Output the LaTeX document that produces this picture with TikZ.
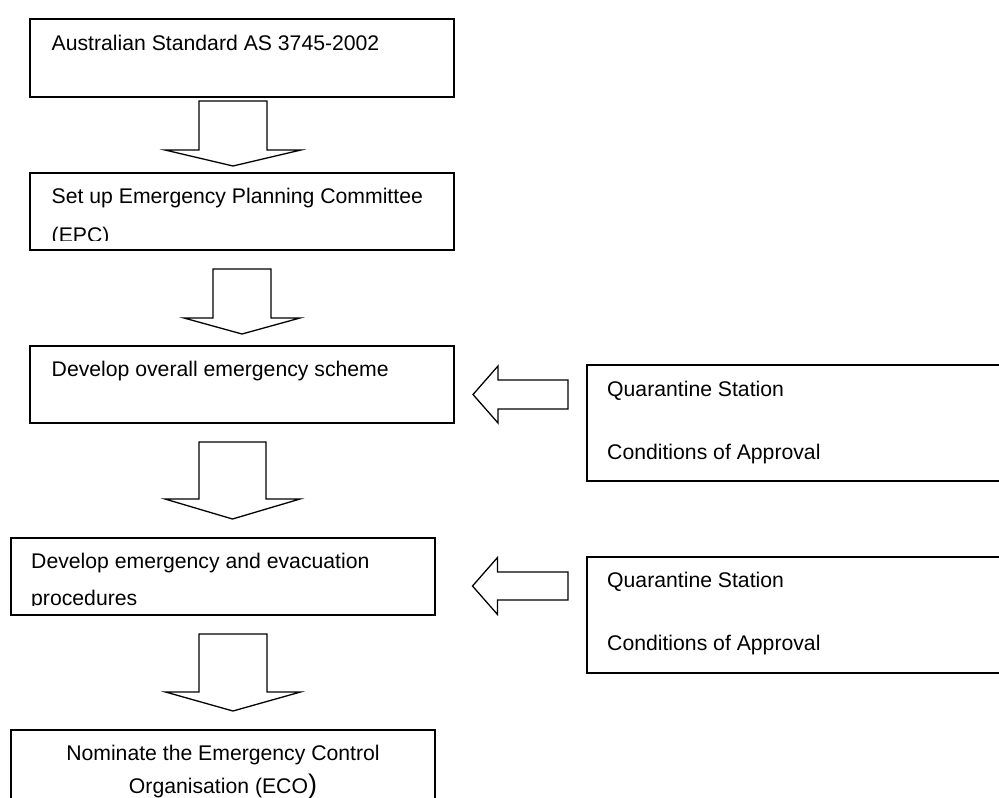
\documentclass[tikz,border=0pt]{standalone}
\usepackage{fontspec}
\setmainfont{Liberation Sans}
\usetikzlibrary{calc}

\tikzset{
  stepbox/.style={draw, line width=1.8pt, minimum width=424pt, minimum height=77pt, inner sep=0pt, outer sep=0pt},
  sidebox/.style={draw, line width=1.5pt, minimum width=423pt, minimum height=116pt, inner sep=0pt, outer sep=0pt},
  txt/.style={inner sep=0pt, anchor=base west, font=\fontsize{21.2}{25}\selectfont},
  block/.style={draw, line width=1.3pt, line join=miter},
}

% block arrow: tail, tip, half shaft, half head, head length
\newcommand{\blockarrow}[5]{%
  \coordinate (ba) at ($(#2)!#5!(#1)$);
  \draw[block] ($(#1)!#3!90:(#2)$) -- ($(ba)!#3!90:(#2)$) -- ($(ba)!#4!90:(#2)$) -- (#2)
    -- ($(ba)!#4!-90:(#2)$) -- ($(ba)!#3!-90:(#2)$) -- ($(#1)!#3!-90:(#2)$) -- cycle;
}

\begin{document}
\begin{tikzpicture}[x=1pt, y=-1pt]
  \fill[white] (0,0) rectangle (999,798);
  \useasboundingbox (0,0) rectangle (999,798);

  % main column
  \node[stepbox, minimum height=78pt] (std) at (242,58) {};
  \node[stepbox] (epc) at (242,211.5) {};
  \node[stepbox] (scheme) at (242,384.5) {};
  \node[stepbox] (proc) at (223,576.5) {};
  \node[stepbox] (eco) at (223,768.5) {};

  % conditions of approval
  \node[sidebox] (cond1) at (798.5,423) {};
  \node[sidebox] (cond2) at (798.5,615) {};

  \node[txt] (std-t) at ($(std.north west)+(21.5,31)$) {Australian Standard AS 3745-2002};
  \node[txt] (epc-t1) at ($(epc.north west)+(21.5,30.3)$) {Set up Emergency Planning Committee};
  \begin{scope}
    \clip (epc.north west) rectangle ($(epc.south east)+(0,-10)$);
    \node[txt] (epc-t2) at ($(epc.north west)+(21.5,69)$) {(EPC)};
  \end{scope}
  \node[txt] (scheme-t) at ($(scheme.north west)+(21.5,30)$) {Develop overall emergency scheme};
  \node[txt] (proc-t1) at ($(proc.north west)+(20,30.3)$) {Develop emergency and evacuation};
  \begin{scope}
    \clip (proc.north west) rectangle ($(proc.south east)+(0,-9.5)$);
    \node[txt] (proc-t2) at ($(proc.north west)+(20,67.5)$) {procedures};
  \end{scope}
  \node[txt, anchor=base] (eco-t1) at ($(eco.north)+(0,30)$) {Nominate the Emergency Control};
  \node[txt, anchor=base] (eco-t2) at ($(eco.north)+(0,63.5)$) {Organisation (ECO{\fontsize{27}{27}\selectfont )}};

  \node[txt] (cond1-t1) at ($(cond1.north west)+(20,31)$) {Quarantine Station};
  \node[txt] (cond1-t2) at ($(cond1.north west)+(20,94.3)$) {Conditions of Approval};
  \node[txt] (cond2-t1) at ($(cond2.north west)+(20,30.7)$) {Quarantine Station};
  \node[txt] (cond2-t2) at ($(cond2.north west)+(20,93.7)$) {Conditions of Approval};

  % arrows down the column
  \coordinate (a1-tail) at ($(std.south)+(-9,4)$);
  \coordinate (a1-tip) at ($(epc.north)+(-9,-7)$);
  \blockarrow{a1-tail}{a1-tip}{34pt}{68pt}{16pt}
  \coordinate (a2-tail) at ($(epc.south)+(0,19)$);
  \coordinate (a2-tip) at ($(scheme.north)+(0,-12)$);
  \blockarrow{a2-tail}{a2-tip}{29pt}{58pt}{16pt}
  \coordinate (a3-tail) at ($(scheme.south)+(-9.5,19)$);
  \coordinate (a3-tip) at ($(proc.north)+(9.5,-19)$);
  \blockarrow{a3-tail}{a3-tip}{33.5pt}{67.5pt}{20pt}
  \coordinate (a4-tail) at ($(proc.south)+(10,19)$);
  \coordinate (a4-tip) at ($(eco.north)+(10,-19)$);
  \blockarrow{a4-tail}{a4-tip}{34pt}{67.5pt}{19pt}

  % arrows from the conditions
  \coordinate (c1-tail) at ($(cond1.west)+(-19,-28.5)$);
  \coordinate (c1-tip) at ($(scheme.east)+(19,10)$);
  \blockarrow{c1-tail}{c1-tip}{14.5pt}{28.5pt}{25pt}
  \coordinate (c2-tail) at ($(cond2.west)+(-19,-29)$);
  \coordinate (c2-tip) at ($(proc.east)+(37.5,9.5)$);
  \blockarrow{c2-tail}{c2-tip}{14pt}{28.5pt}{25pt}
\end{tikzpicture}
\end{document}
